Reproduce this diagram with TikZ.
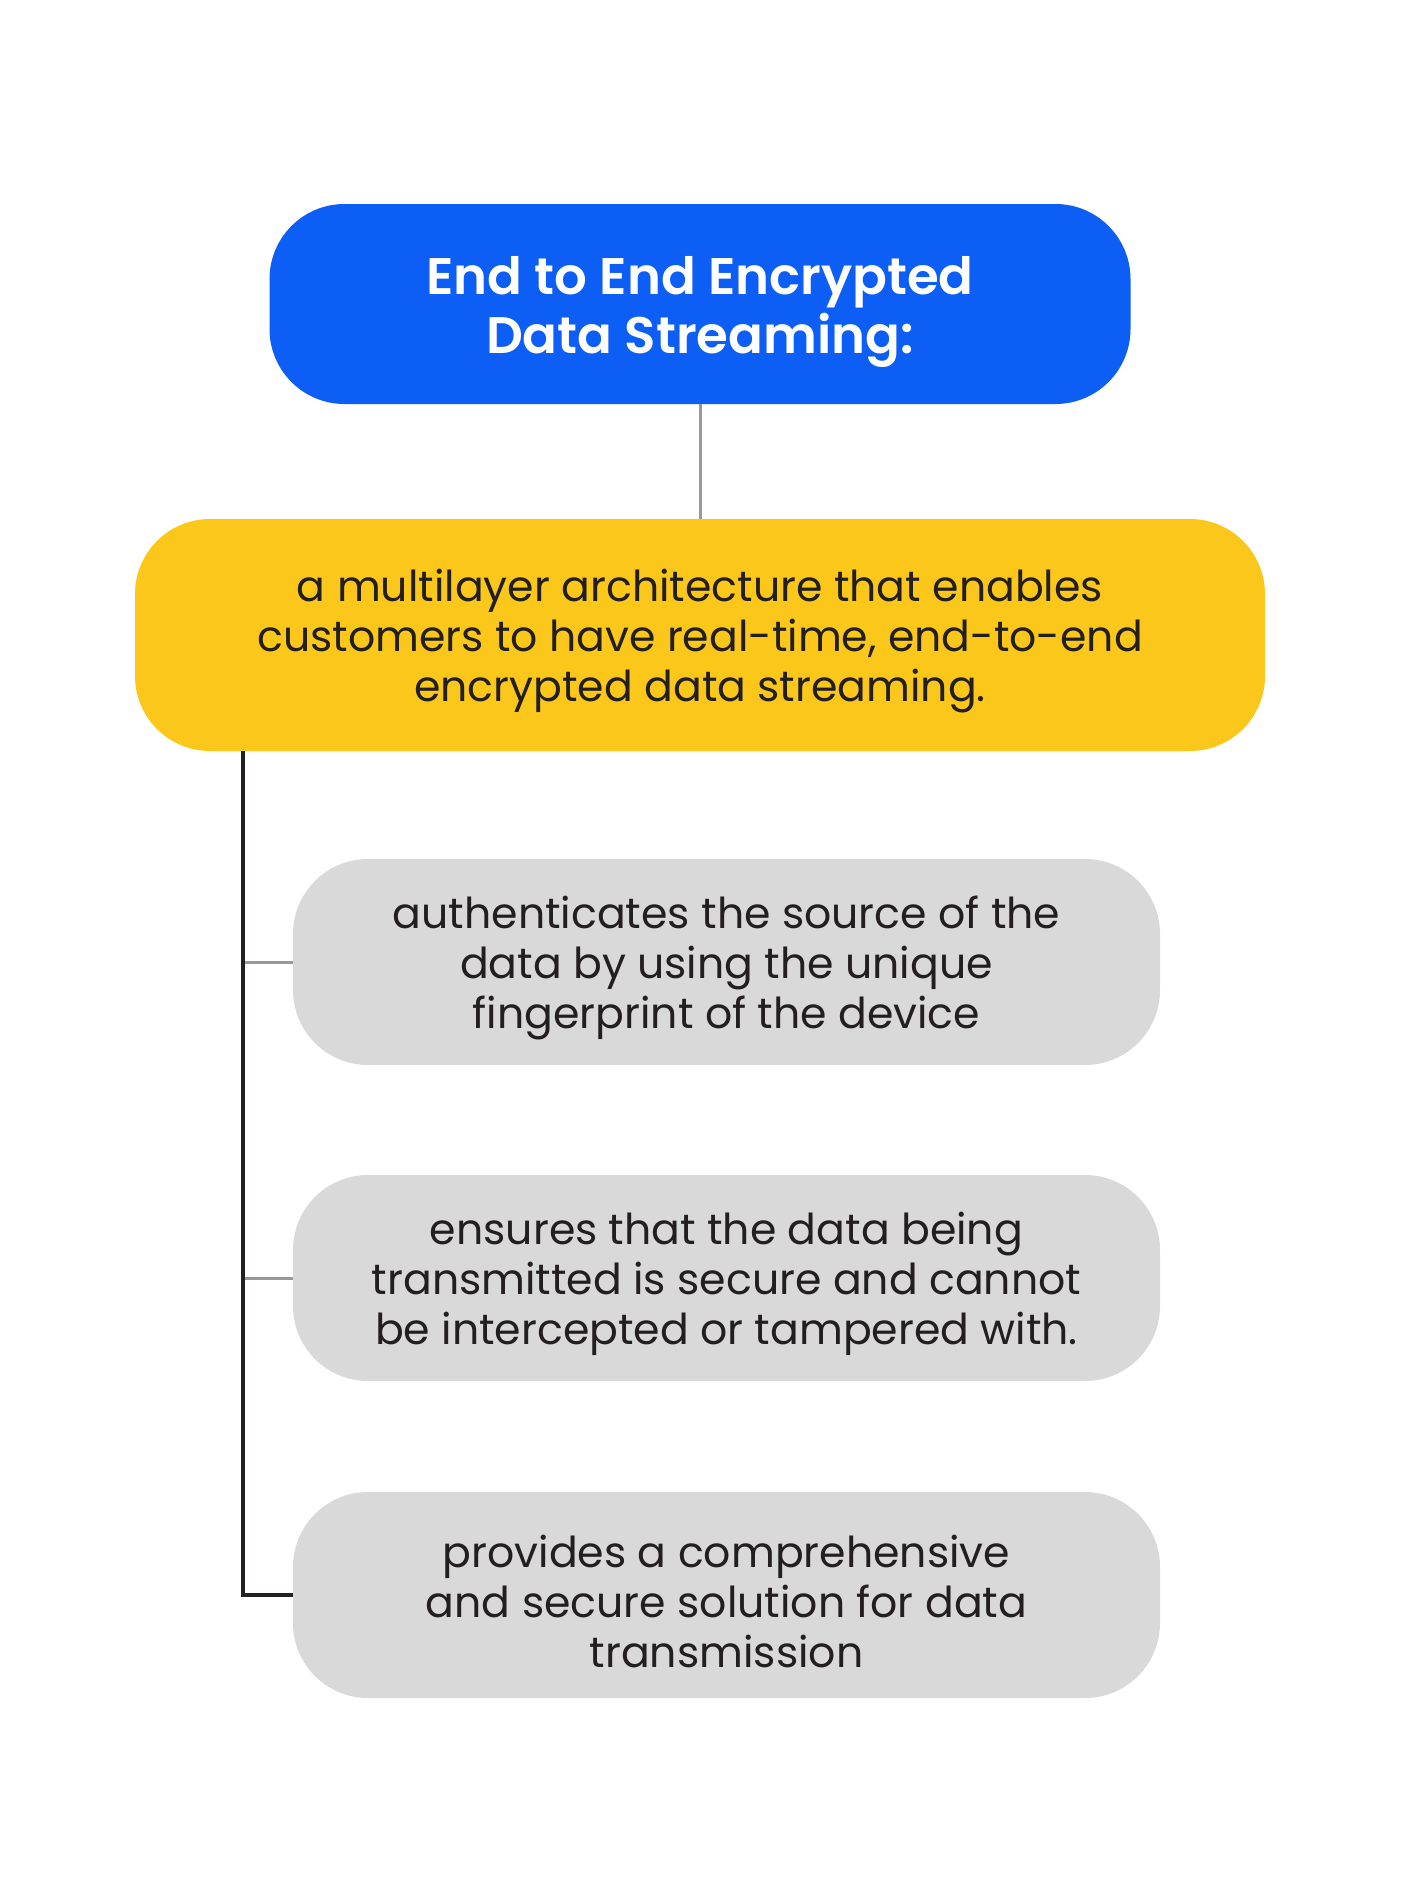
\documentclass[tikz,border=0pt]{standalone}
\usepackage{fontspec}
\setmainfont{Poppins}
\newfontfamily\titlefont{Poppins SemiBold}
\definecolor{bluebox}{HTML}{0D5EF4}
\definecolor{yellowbox}{HTML}{FCC71B}
\definecolor{graybox}{HTML}{D9D9D9}
\definecolor{darktext}{HTML}{231F20}
\definecolor{connGray}{HTML}{999999}
\begin{document}
\begin{tikzpicture}[x=1pt,y=1pt,
  box/.style={rounded corners=75pt, inner sep=0pt},
  titlebox/.style={box, fill=bluebox, minimum width=861pt, minimum height=200pt},
  mainbox/.style={box, fill=yellowbox, minimum width=1130pt, minimum height=232pt},
  itembox/.style={box, fill=graybox, minimum width=867pt, minimum height=206pt},
  titletext/.style={align=center, inner sep=0pt, text=white, font=\fontsize{51.4}{59}\selectfont\titlefont},
  bodytext/.style={align=center, inner sep=0pt, text=darktext, font=\fontsize{42.6}{50}\selectfont},
  thinconn/.style={draw=connGray, line width=3pt},
  darkconn/.style={draw=darktext, line width=4pt}]
\fill[white] (0,0) rectangle (1400,-1903);
\useasboundingbox (0,0) rectangle (1400,-1903);

\node[titlebox] (title) at (700,-304) {};
\node[mainbox] (main) at (700,-635) {};
\node[itembox] (g1) at (726.5,-962) {};
\node[itembox] (g2) at (726.5,-1278) {};
\node[itembox] (g3) at (726.5,-1595) {};

\node[titletext] (titleT) at ([yshift=-8pt]title.center) {End to End Encrypted\\Data Streaming:};
\node[bodytext] (mainT) at ([yshift=-6pt]main.center) {a multilayer architecture that enables\\customers to have real-time, end-to-end\\encrypted data streaming.};
\node[bodytext] (g1T) at ([yshift=-6pt]g1.center) {authenticates the source of the\\data by using the unique\\fingerprint of the device};
\node[bodytext] (g2T) at ([yshift=-6pt]g2.center) {ensures that the data being\\transmitted is secure and cannot\\be intercepted or tampered with.};
\node[bodytext] (g3T) at ([yshift=-6pt]g3.center) {provides a comprehensive\\and secure solution for data\\transmission};

\coordinate (top) at (243,-751);
\coordinate (corner) at (243,-1595);
\coordinate (b1) at (243,-962);
\coordinate (b2) at (243,-1278);

\draw[thinconn] (title.south) -- (main.north);
\draw[thinconn] (b1) -- (g1.west);
\draw[thinconn] (b2) -- (g2.west);
\draw[darkconn, line join=miter] (top) -- (corner) -- (g3.west);
\end{tikzpicture}
\end{document}
